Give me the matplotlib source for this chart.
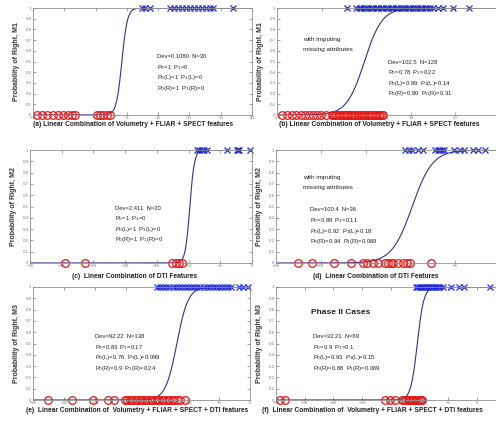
import numpy as np
import matplotlib
matplotlib.use("Agg")
import matplotlib.pyplot as plt  # noqa: E402

plt.rcParams["font.family"] = ["Liberation Sans", "DejaVu Sans"]

W, H = 496, 422
RED = "#e41a1a"
BLUE = "#1f2bd6"
CURVE = "#34347e"
GRAY = "#7a7a7a"

# --- data ---
# panel (a): Volumetry + FLIAR + SPECT
a_red = [-28.7, -27.1, -25.5, -23.6, -22.0, -20.4, -18.8, -17.5, -16.6,
         -9.5, -8.6, -7.6, -6.3, -5.4]
a_blue = [4.8, 5.8, 7.4, 13.8, 15.1, 16.3, 17.6, 18.9, 20.2, 21.5, 22.7,
          24.0, 25.3, 26.6, 27.5, 33.9]
a_fit = (-1.6, 1.14)  # centre, slope of logistic fit

# panel (b): same features, imputed
b_red = [-18.9, -17.7, -16.6, -15.7, -14.7, -13.8, -12.9, -12.0, -11.1, -10.2,
         -9.0, -7.7, -7.4, -7.0, -6.7, -6.3, -6.0, -5.6, -5.3, -4.9, -4.6,
         -4.2, -3.9, -3.5, -3.2, -2.8, -2.5, -2.1, -1.8, -1.4, -1.1, -0.7,
         -0.4, 0.0, 0.3, 0.7, 1.0, 1.4, 1.7, 2.1, 2.4, 2.8, 3.1, 3.5, 3.7]
b_blue = [-4.2, -2.2, -1.7, -1.1, -0.6, 0.0, 0.5, 1.1, 1.6, 2.2, 2.7, 3.3,
          3.8, 4.4, 4.9, 5.5, 6.0, 6.6, 7.1, 7.7, 8.2, 8.8, 9.3, 9.9, 10.4,
          11.0, 11.5, 12.1, 12.6, 13.2, 13.7, 14.3, 14.9, 16.1, 17.2, 19.5,
          23.1]
b_fit = (-0.4, 0.505)

# panel (c): DTI
c_red = [-29.5, -26.3, -12.6, -12.0, -11.5, -11.0]
c_blue = [-8.7, -8.3, -7.9, -7.5, -7.1, -3.9, -2.4, -2.2, -2.0, -0.3]
c_fit = (-9.8, 2.8)

# panel (d): DTI, imputed
d_red = [-22.5, -21.0, -18.5, -16.6, -15.3, -14.8, -14.2, -13.6, -12.8,
         -12.5, -12.2, -11.9, -11.4, -10.8, -10.4, -10.0, -7.7]
d_blue = [-10.6, -10.2, -9.8, -9.2, -8.6, -7.2, -6.9, -6.7, -6.5, -6.3,
          -5.1, -4.5, -4.0, -3.0, -2.4, -1.7]
d_fit = (-9.8, 0.88)

# panel (e): Volumetry + FLIAR + SPECT + DTI
e_red = [-32.6, -28.7, -25.3, -22.9, -21.9, -20.2, -19.8, -19.4, -19.0,
         -18.6, -18.2, -17.8, -17.4, -17.0, -16.6, -16.2, -15.8, -15.4,
         -15.0, -14.6, -14.2, -13.8, -13.4, -13.0, -12.6, -12.2, -11.8,
         -11.3, -10.5]
e_blue = [-15.0, -14.5, -14.0, -13.5, -13.0, -12.5, -12.0, -11.5, -11.0,
          -10.5, -10.0, -9.5, -9.0, -8.5, -8.0, -7.5, -7.0, -6.5, -6.0,
          -5.5, -5.0, -4.5, -4.0, -3.5, -3.0, -1.8, -1.2, -0.3]
e_fit = (-11.8, 1.1)

# panel (f): phase II cases
f_red = [-34.3, -33.4, -16.0, -15.1, -14.3, -13.0, -12.7, -12.4, -12.1,
         -11.8, -11.5, -11.2, -10.9, -10.6, -10.3, -10.0, -9.7, -9.5]
f_blue = [-10.7, -10.4, -10.1, -9.8, -9.5, -9.2, -8.9, -8.6, -8.3, -8.0,
          -7.7, -7.4, -7.1, -6.8, -6.4, -5.9, -4.5, -3.1, -2.2, 2.2]
f_fit = (-10.4, 1.76)

stats = {
    "a": ["Dev=0.1080  N=30", "P$_0$=1  P$_1$=0",
          "P$_0$(L)=1  P$_1$(L)=0", "P$_0$(R)=1  P$_1$(R)=0"],
    "b": ["Dev=102.5  N=128", "P$_0$=0.78  P$_1$=0.22",
          "P$_0$(L)=0.89  P$_1$(L)=0.14", "P$_0$(R)=0.80  P$_1$(R)=0.31"],
    "c": ["Dev=2.411  N=20", "P$_0$=1  P$_1$=0",
          "P$_0$(L)=1  P$_1$(L)=0", "P$_0$(R)=1  P$_1$(R)=0"],
    "d": ["Dev=100.4  N=36", "P$_0$=0.89  P$_1$=0.11",
          "P$_0$(L)=0.92  P$_1$(L)=0.18", "P$_0$(R)=0.94  P$_1$(R)=0.069"],
    "e": ["Dev=92.22  N=138", "P$_0$=0.83  P$_1$=0.17",
          "P$_0$(L)=0.76  P$_1$(L)=0.099", "P$_0$(R)=0.9  P$_1$(R)=0.24"],
    "f": ["Dev=33.21  N=69", "P$_0$=0.9  P$_1$=0.1",
          "P$_0$(L)=0.93  P$_1$(L)=0.15", "P$_0$(R)=0.88  P$_1$(R)=0.069"],
}

titles = {
    "a": "(a) Linear Combination of Volumetry + FLIAR + SPECT features",
    "b": "(b) Linear Combination of Volumetry + FLIAR + SPECT features",
    "c": "(c)  Linear Combination of DTI Features",
    "d": "(d)  Linear Combination of DTI Features",
    "e": "(e)  Linear Combination of  Volumetry + FLIAR + SPECT + DTI features",
    "f": "(f)  Linear Combination of  Volumetry + FLIAR + SPECT + DTI features",
}
ylabels = {"a": "Probability of Right, M1", "b": "Probability of Right, M1",
           "c": "Probability of Right, M2", "d": "Probability of Right, M2",
           "e": "Probability of Right, M3", "f": "Probability of Right, M3"}

# panel layout in pixels: left, right, top, bottom, xlim, xtick step
layout = {
    "a": (33, 252, 8, 115, (-30, 40), 10),
    "b": (277, 500, 8, 115, (-20, 30), 10),
    "c": (30, 252, 150, 263, (-35, 0), 5),
    "d": (276, 500, 150, 263, (-25, 0), 5),
    "e": (33, 250, 287, 400, (-35, 0), 5),
    "f": (276, 500, 287, 400, (-35, 4), 5),
}
# title centre (x, y) and stats text top-left (x, y) in pixels
title_pos = {"a": (133, 125), "b": (379, 125), "c": (135, 276),
             "d": (376, 277), "e": (137, 411), "f": (372, 411)}
stats_pos = {"a": (157, 57), "b": (388, 62), "c": (115, 208),
             "d": (310, 210), "e": (95, 337), "f": (313, 337)}

data = {"a": (a_red, a_blue, a_fit), "b": (b_red, b_blue, b_fit),
        "c": (c_red, c_blue, c_fit), "d": (d_red, d_blue, d_fit),
        "e": (e_red, e_blue, e_fit), "f": (f_red, f_blue, f_fit)}


def px(x, y):
    return x / W, 1 - y / H


fig = plt.figure(figsize=(W / 100, H / 100), dpi=100)

for key in "abcdef":
    l, r, t, b, xlim, step = layout[key]
    ax = fig.add_axes([l / W, 1 - b / H, (r - l) / W, (b - t) / H])
    red, blue, (c0, k) = data[key]
    xs = np.linspace(xlim[0], xlim[1], 400)
    ax.plot(xs, 1 / (1 + np.exp(-k * (xs - c0))), color=CURVE, lw=0.8)
    ax.plot(red, np.zeros(len(red)), "o", mfc="none", mec=RED, mew=0.9,
            ms=5.5, clip_on=False)
    ax.plot(blue, np.ones(len(blue)), "x", color=BLUE, mew=0.9, ms=4,
            clip_on=False)
    ax.set_xlim(xlim)
    ax.set_ylim(0, 1)
    # keep only ticks whose labels stay on the canvas
    span = (r - l) / (xlim[1] - xlim[0])
    ticks = [v for v in np.arange(xlim[0], xlim[1] + 0.01, step)
             if l + (v - xlim[0]) * span < W - 6]
    ax.set_xticks(ticks)
    ax.set_yticks(np.arange(0, 1.01, 0.1))
    ax.set_yticklabels(["0"] + ["%.1f" % v for v in np.arange(0.1, 0.95, 0.1)] + ["1"])
    ax.tick_params(direction="in", top=True, right=True, length=2,
                   width=0.5, labelsize=3.2, colors=GRAY, pad=1)
    for s in ax.spines.values():
        s.set_color("#909090")
        s.set_linewidth(0.6)
    ax.set_ylabel(ylabels[key], fontsize=5, fontweight="bold", color="#333333")
    ax.yaxis.set_label_coords(-0.06, 0.5)

    tx, ty = title_pos[key]
    fig.text(*px(tx, ty), titles[key], ha="center", va="center",
             fontsize=4.8, fontweight="bold", color="#222222")
    sx, sy = stats_pos[key]
    for i, line in enumerate(stats[key]):
        fig.text(*px(sx, sy + i * 10.5), line, ha="left", va="center",
                 fontsize=4.2, color="#222222")

fig.text(*px(303, 40), "with imputing", fontsize=4.6, color="#222222",
         va="center")
fig.text(*px(303, 50), "missing attributes", fontsize=4.6, color="#222222",
         va="center")
fig.text(*px(303, 178), "with imputing", fontsize=4.6, color="#222222",
         va="center")
fig.text(*px(303, 187), "missing attributes", fontsize=4.6, color="#222222",
         va="center")
fig.text(*px(311, 313), "Phase II Cases", fontsize=6, fontweight="bold",
         color="#222222", va="center")

fig.savefig("out.png", dpi=100)
